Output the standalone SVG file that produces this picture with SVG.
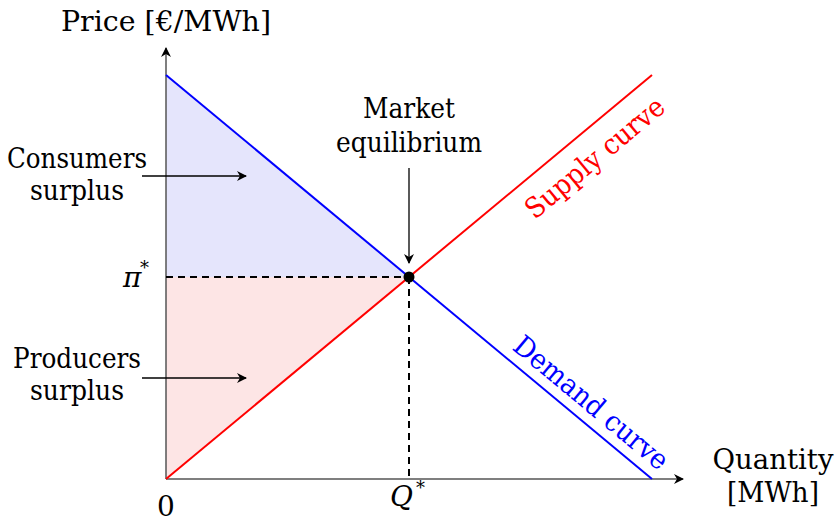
<svg xmlns="http://www.w3.org/2000/svg" width="836" height="522" viewBox="0 0 836 522">
<style>
text{font-family:"DejaVu Serif","Liberation Serif",serif;font-size:28px;fill:#000}
.c{text-anchor:middle}
.sup{font-size:18px}
.ax{stroke:#555;stroke-width:1.5;fill:none}
.ln{stroke:#000;stroke-width:1.3;fill:none}
.dash{stroke:#000;stroke-width:2;stroke-dasharray:7,5;fill:none}
</style>
<defs>
<marker id="ah" viewBox="0 0 10 10" refX="9" refY="5" markerWidth="10" markerHeight="10" markerUnits="userSpaceOnUse" orient="auto">
<path d="M0,0 L10,5 L0,10 L3,5 Z" fill="#000"/>
</marker>
</defs>
<g id="areas">
<polygon id="consumer-area" points="166,75 409,277 166,277" fill="#e5e5fc"/>
<polygon id="producer-area" points="166,277 409,277 166,479" fill="#fde5e5"/>
</g>
<g id="connectors">
<line class="ax" x1="166" y1="479" x2="166" y2="48" marker-end="url(#ah)"/>
<line class="ax" x1="166" y1="479" x2="683" y2="479" marker-end="url(#ah)"/>
<line class="dash" x1="166" y1="277" x2="409" y2="277"/>
<line class="dash" x1="409" y1="277" x2="409" y2="479"/>
<line class="ln" x1="142" y1="176" x2="246" y2="176" marker-end="url(#ah)"/>
<line class="ln" x1="142" y1="378" x2="246" y2="378" marker-end="url(#ah)"/>
<line class="ln" x1="409" y1="168" x2="409" y2="263" marker-end="url(#ah)"/>
</g>
<g id="demand">
<line x1="166" y1="75" x2="652" y2="479" stroke="#00f" stroke-width="2"/>
<text transform="translate(585,410) rotate(39.74)" class="c" style="fill:#00f" textLength="192" lengthAdjust="spacingAndGlyphs">Demand curve</text>
</g>
<g id="supply">
<line x1="166" y1="479" x2="652" y2="75" stroke="#f00" stroke-width="2"/>
<text transform="translate(601,165) rotate(-39.74)" class="c" style="fill:#f00" textLength="172" lengthAdjust="spacingAndGlyphs">Supply curve</text>
</g>
<g id="equilibrium">
<circle cx="409" cy="277" r="5.5" fill="#000"/>
<text x="409" y="118" class="c" textLength="92" lengthAdjust="spacingAndGlyphs">Market</text>
<text x="409" y="152" class="c" textLength="146" lengthAdjust="spacingAndGlyphs">equilibrium</text>
</g>
<g id="labels">
<text x="166" y="31" class="c" textLength="210" lengthAdjust="spacingAndGlyphs">Price [€/MWh]</text>
<text x="773" y="469" class="c" textLength="121" lengthAdjust="spacingAndGlyphs">Quantity</text>
<text x="773" y="502" class="c" textLength="92" lengthAdjust="spacingAndGlyphs">[MWh]</text>
<text x="166" y="516" class="c">0</text>
<text x="390" y="506" font-style="italic">Q</text><text x="416" y="494" class="sup">*</text>
<text x="123" y="287" font-style="italic">π</text><text x="140" y="274" class="sup">*</text>
</g>
<g id="consumers">
<text x="77" y="168" class="c" textLength="140" lengthAdjust="spacingAndGlyphs">Consumers</text>
<text x="77" y="200" class="c" textLength="94" lengthAdjust="spacingAndGlyphs">surplus</text>
</g>
<g id="producers">
<text x="77" y="368" class="c" textLength="128" lengthAdjust="spacingAndGlyphs">Producers</text>
<text x="77" y="400" class="c" textLength="94" lengthAdjust="spacingAndGlyphs">surplus</text>
</g>
</svg>
